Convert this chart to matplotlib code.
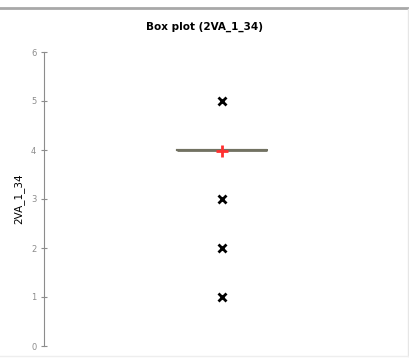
import matplotlib
matplotlib.use("Agg")
import matplotlib.pyplot as plt
from matplotlib.lines import Line2D

# box statistics
variable = "2VA_1_34"
median = 4.0
q1 = 4.0
q3 = 4.0
whislo = 4.0
whishi = 4.0
mean = 3.97
outliers = [5, 3, 2, 1]
yticks = [0, 1, 2, 3, 4, 5, 6]

fig = plt.figure(figsize=(4.09, 3.60), dpi=100)
ax = fig.add_axes([44 / 409, 14 / 360, 356 / 409, 294 / 360])

stats = [{
    "med": median, "q1": q1, "q3": q3,
    "whislo": whislo, "whishi": whishi,
    "mean": mean, "fliers": outliers, "label": "",
}]
ax.bxp(stats, positions=[1], widths=0.506, showmeans=True, showcaps=False,
       boxprops=dict(color="#727262", linewidth=1.5),
       medianprops=dict(color="#727262", linewidth=2),
       whiskerprops=dict(color="#727262", linewidth=1),
       meanprops=dict(marker="+", markeredgecolor="#ff3030", markersize=9,
                      markeredgewidth=2, linestyle="none"),
       flierprops=dict(marker="x", markeredgecolor="black", markersize=5.5,
                       markeredgewidth=2, linestyle="none"))

ax.set_xlim(0, 2)
ax.set_ylim(0, 6)
ax.set_yticks(yticks)
ax.set_xticks([])
for s in ["top", "right", "bottom"]:
    ax.spines[s].set_visible(False)
ax.spines["left"].set_color("#8c8c8c")
ax.tick_params(axis="y", direction="inout", length=5, color="#8c8c8c",
               labelsize=6, labelcolor="#8c8c8c", pad=3)
ax.set_ylabel(variable, fontsize=7.5, labelpad=5)

fig.text(205 / 409, 1 - 27 / 360, "Box plot (2VA_1_34)", ha="center", va="center",
         fontsize=7.5, fontweight="bold")

# top rule and faint frame
fig.add_artist(Line2D([0, 1], [1 - 7.5 / 360] * 2, color="#a8a8a8", linewidth=2))
fig.add_artist(Line2D([1 - 1 / 409] * 2, [4 / 360, 1 - 9 / 360], color="#e6e6e6", linewidth=1))
fig.add_artist(Line2D([0, 1], [4 / 360] * 2, color="#eeeeee", linewidth=1))

fig.savefig("out.png", dpi=100)
